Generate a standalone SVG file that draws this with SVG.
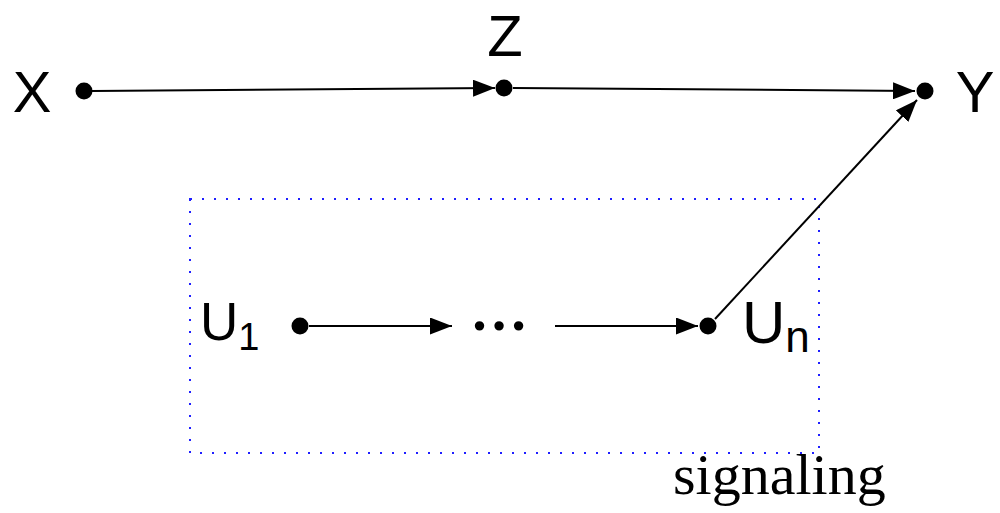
<svg xmlns="http://www.w3.org/2000/svg" width="1000" height="513" viewBox="0 0 1000 513">
<style>
.lbl{font-family:"Liberation Sans",Arial,sans-serif;fill:#000}
.edge{stroke:#000;stroke-width:2;fill:none;marker-end:url(#ah)}
.pt{fill:#000}
</style>
<defs>
<marker id="ah" markerUnits="userSpaceOnUse" markerWidth="22" markerHeight="17" refX="22" refY="8.5" orient="auto">
<path d="M0,0 L22,8.5 L0,17 z" fill="#000"/>
</marker>
</defs>
<rect id="signaling-box" x="190" y="199" width="629" height="254" fill="none" stroke="#1f1fff" stroke-width="2" stroke-dasharray="2 10"/>
<g id="edges">
<line class="edge" x1="92" y1="91" x2="495" y2="88"/>
<line class="edge" x1="513" y1="88" x2="915" y2="91"/>
<line class="edge" x1="309" y1="326" x2="452" y2="326"/>
<line class="edge" x1="555" y1="326" x2="698" y2="326"/>
<line class="edge" x1="715" y1="319" x2="917" y2="100"/>
</g>
<g id="X"><circle class="pt" cx="84" cy="91" r="8.5"/><text class="lbl" x="32" y="112" font-size="58" text-anchor="middle">X</text></g>
<g id="Z"><circle class="pt" cx="504" cy="88" r="8.5"/><text class="lbl" x="505" y="56" font-size="58" text-anchor="middle">Z</text></g>
<g id="Y"><circle class="pt" cx="925" cy="91" r="8.5"/><text class="lbl" x="975" y="112" font-size="58" text-anchor="middle">Y</text></g>
<g id="U1"><circle class="pt" cx="300" cy="326" r="8.5"/><text class="lbl" x="200" y="340" font-size="53">U<tspan font-size="38" dy="10">1</tspan></text></g>
<g id="dots"><text x="499" y="330" font-family="'Liberation Serif','Times New Roman',serif" font-size="58" font-weight="bold" text-anchor="middle">…</text></g>
<g id="Un"><circle class="pt" cx="708" cy="326" r="8.5"/><text class="lbl" x="742" y="343" font-size="60">U<tspan font-size="44" dy="9">n</tspan></text></g>
<text id="signaling" x="673" y="494" font-family="'Liberation Serif','Times New Roman',serif" font-size="58">signaling</text>
</svg>
